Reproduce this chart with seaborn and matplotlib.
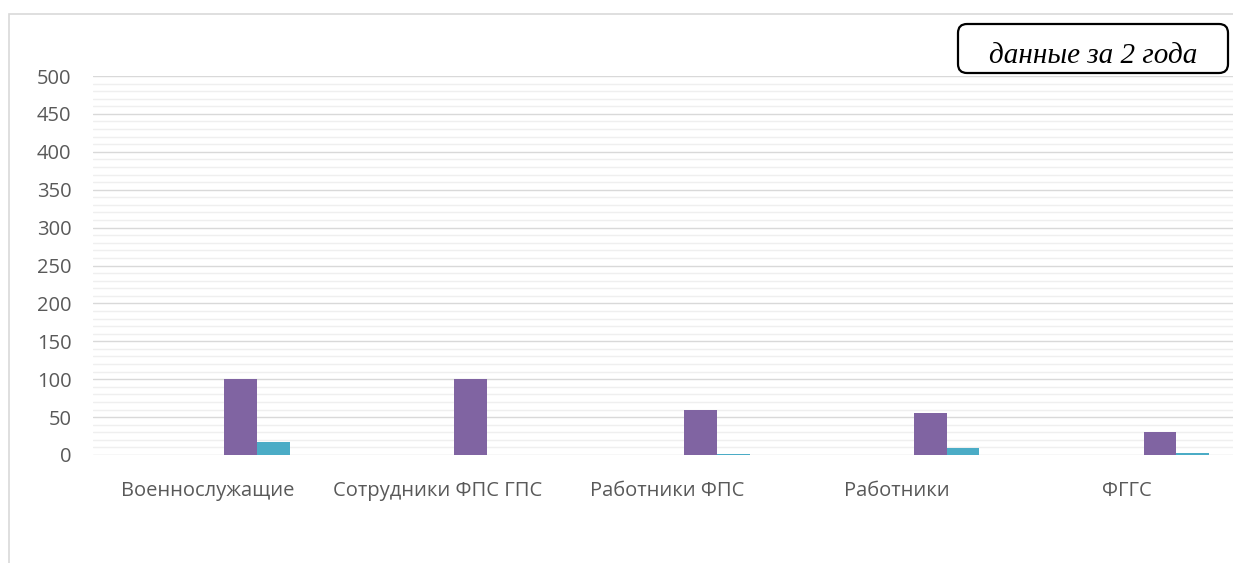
import matplotlib
matplotlib.use("Agg")
import matplotlib.pyplot as plt
from matplotlib.patches import FancyBboxPatch, Rectangle
import seaborn as sns
import pandas as pd

# данные
categories = ["Военнослужащие", "Сотрудники ФПС ГПС", "Работники ФПС", "Работники", "ФГГС"]
series_names = ["Ряд1", "Ряд2", "Ряд3", "Ряд4", "Ряд5"]
series_1 = [0, 0, 0, 0, 0]
series_2 = [0, 0, 0, 0, 0]
series_3 = [0, 0, 0, 0, 0]
series_4 = [100, 100, 60, 56, 30]
series_5 = [17, 0, 1, 9, 2]
colors = ["#4F81BD", "#C0504D", "#9BBB59", "#8064A2", "#4BACC6"]
y_ticks = [0, 50, 100, 150, 200, 250, 300, 350, 400, 450, 500]
note_text = "данные за 2 года"

rows = []
for name, vals in zip(series_names, [series_1, series_2, series_3, series_4, series_5]):
    for cat, v in zip(categories, vals):
        rows.append({"cat": cat, "series": name, "value": v})
df = pd.DataFrame(rows)

sns.set_style("white")
plt.rcParams["font.family"] = ["Open Sans", "DejaVu Sans"]

W, H = 1233, 563
fig = plt.figure(figsize=(W / 100, H / 100), dpi=100)
ax = fig.add_axes([93 / W, 1 - 455 / H, (1242 - 93) / W, (455 - 76) / H])

sns.barplot(data=df, x="cat", y="value", hue="series", palette=colors, saturation=1,
            width=5 / 7, linewidth=0, legend=False, ax=ax, zorder=3)

ax.set_ylim(0, 500)
ax.set_yticks(y_ticks)
ax.set_yticks(range(0, 501, 10), minor=True)
ax.grid(axis="y", which="minor", color="#EFEFEF", linewidth=1.0, zorder=0)
ax.grid(axis="y", which="major", color="#D9D9D9", linewidth=1.0, zorder=1)
ax.set_axisbelow(True)
for s in ax.spines.values():
    s.set_visible(False)
ax.set_xlabel("")
ax.set_ylabel("")
ax.tick_params(axis="both", which="both", length=0, labelsize=14.5, colors="#595959")
ax.tick_params(axis="y", pad=15.5)
ax.tick_params(axis="x", pad=19)

# рамка области диаграммы
fig.patches.append(Rectangle((9 / W, -0.1), 1.2, 1 - 14 / H + 0.1, transform=fig.transFigure,
                             fill=False, edgecolor="#D9D9D9", linewidth=1.2))

# надпись в скруглённой рамке
bx0, bx1, by_top, by_bot = 958, 1228, 24, 73
fig.patches.append(FancyBboxPatch((bx0, H - by_bot), bx1 - bx0, by_bot - by_top,
                                  boxstyle="round,pad=0,rounding_size=9", transform=None,
                                  facecolor="white", edgecolor="black", linewidth=1.6))
fig.text((bx0 + bx1) / 2 / W, 1 - 56 / H, note_text,
         family="Liberation Serif", style="italic", fontsize=21,
         ha="center", va="center", color="black")

fig.savefig("out.png", dpi=100)
